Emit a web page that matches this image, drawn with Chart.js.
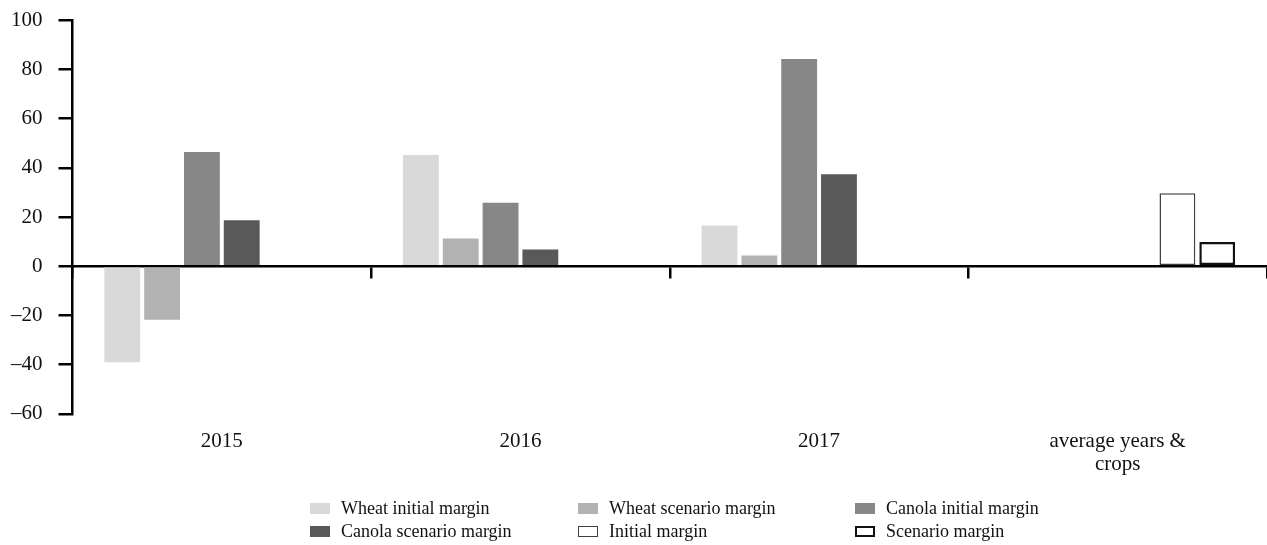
<!DOCTYPE html>
<html>
<head>
<meta charset="utf-8">
<script src="https://cdn.jsdelivr.net/npm/chart.js@4"></script>
<style>
  html, body { margin: 0; padding: 0; background: #fff; }
  #wrap { position: relative; width: 1267px; height: 545px; }
  #c { position: absolute; left: 0; top: 0; }
  #legend { position: absolute; left: 310px; top: 498px; display: grid;
    grid-template-columns: 268px 277px auto; row-gap: 2px;
    font-family: "Liberation Serif", "Times New Roman", serif; font-size: 18px; color: #111; }
  .item { display: flex; align-items: center; height: 21px; white-space: nowrap; }
  .sw { width: 20px; height: 11px; margin-right: 11px; box-sizing: border-box; }
</style>
</head>
<body>
<div id="wrap">
  <canvas id="c" width="1267" height="545"></canvas>
  <div id="legend"></div>
</div>
<script>
const categories = ['2015', '2016', '2017', ['average years &', 'crops']];
const seriesNames = ['Wheat initial margin', 'Wheat scenario margin', 'Canola initial margin',
                     'Canola scenario margin', 'Initial margin', 'Scenario margin'];
const wheatInitial   = [-39, 45.2, 16.5, null];
const wheatScenario  = [-21.8, 11.3, 4.3, null];
const canolaInitial  = [46.4, 25.8, 84.2, null];
const canolaScenario = [18.7, 6.8, 37.4, null];
const initialMargin  = [null, null, null, 29.7];
const scenarioMargin = [null, null, null, 9.8];
const yMin = -60, yMax = 100, yStep = 20;

const fills   = ['#d9d9d9', '#b2b2b2', '#878787', '#595959', '#ffffff', '#ffffff'];
const borders = ['#d9d9d9', '#b2b2b2', '#878787', '#595959', '#404040', '#111111'];
const bw      = [0, 0, 0, 0, 1.5, 2.5];
const values  = [wheatInitial, wheatScenario, canolaInitial, canolaScenario, initialMargin, scenarioMargin];

const FONT = '"Liberation Serif", "Times New Roman", serif';

const datasets = seriesNames.map((name, i) => ({
  label: name,
  data: values[i],
  backgroundColor: fills[i],
  borderColor: borders[i],
  borderWidth: bw[i],
  borderSkipped: false,
  xAxisID: 'x',
  yAxisID: 'y'
}));

new Chart(document.getElementById('c'), {
  type: 'bar',
  data: { labels: categories, datasets },
  options: {
    responsive: false,
    animation: false,
    layout: { padding: { left: -5, right: 0, top: 9, bottom: 61 } },
    plugins: { legend: { display: false }, tooltip: { enabled: false } },
    scales: {
      x: {
        type: 'category',
        position: 'bottom',
        grid: { display: false },
        border: { display: false },
        ticks: { color: '#111', font: { family: FONT, size: 21, lineHeight: 1.1 }, padding: 8, maxRotation: 0 }
      },
      x2: {
        type: 'category',
        labels: categories,
        position: { y: 0 },
        offset: true,
        grid: { display: true, drawOnChartArea: false, drawTicks: true, tickLength: 11,
                color: '#000', lineWidth: 2.5, offset: true },
        border: { display: true, color: '#000', width: 2.5 },
        ticks: { display: false }
      },
      y: {
        min: yMin, max: yMax,
        grid: { display: true, drawOnChartArea: false, drawTicks: true, tickLength: 14,
                color: '#000', lineWidth: 2.5 },
        border: { display: true, color: '#000', width: 2.5 },
        ticks: {
          stepSize: yStep, padding: 16, color: '#111',
          font: { family: FONT, size: 21, lineHeight: 0.4 },
          callback: v => (v < 0 ? '\u2013' + Math.abs(v) : String(v))
        }
      }
    }
  }
});

const leg = document.getElementById('legend');
seriesNames.forEach((name, i) => {
  const it = document.createElement('div');
  it.className = 'item';
  const sw = document.createElement('span');
  sw.className = 'sw';
  sw.style.background = fills[i];
  if (bw[i] > 0) sw.style.border = (i === 5 ? 2.5 : 1.5) + 'px solid ' + borders[i];
  const tx = document.createElement('span');
  tx.textContent = name;
  it.appendChild(sw); it.appendChild(tx);
  leg.appendChild(it);
});
</script>
</body>
</html>
